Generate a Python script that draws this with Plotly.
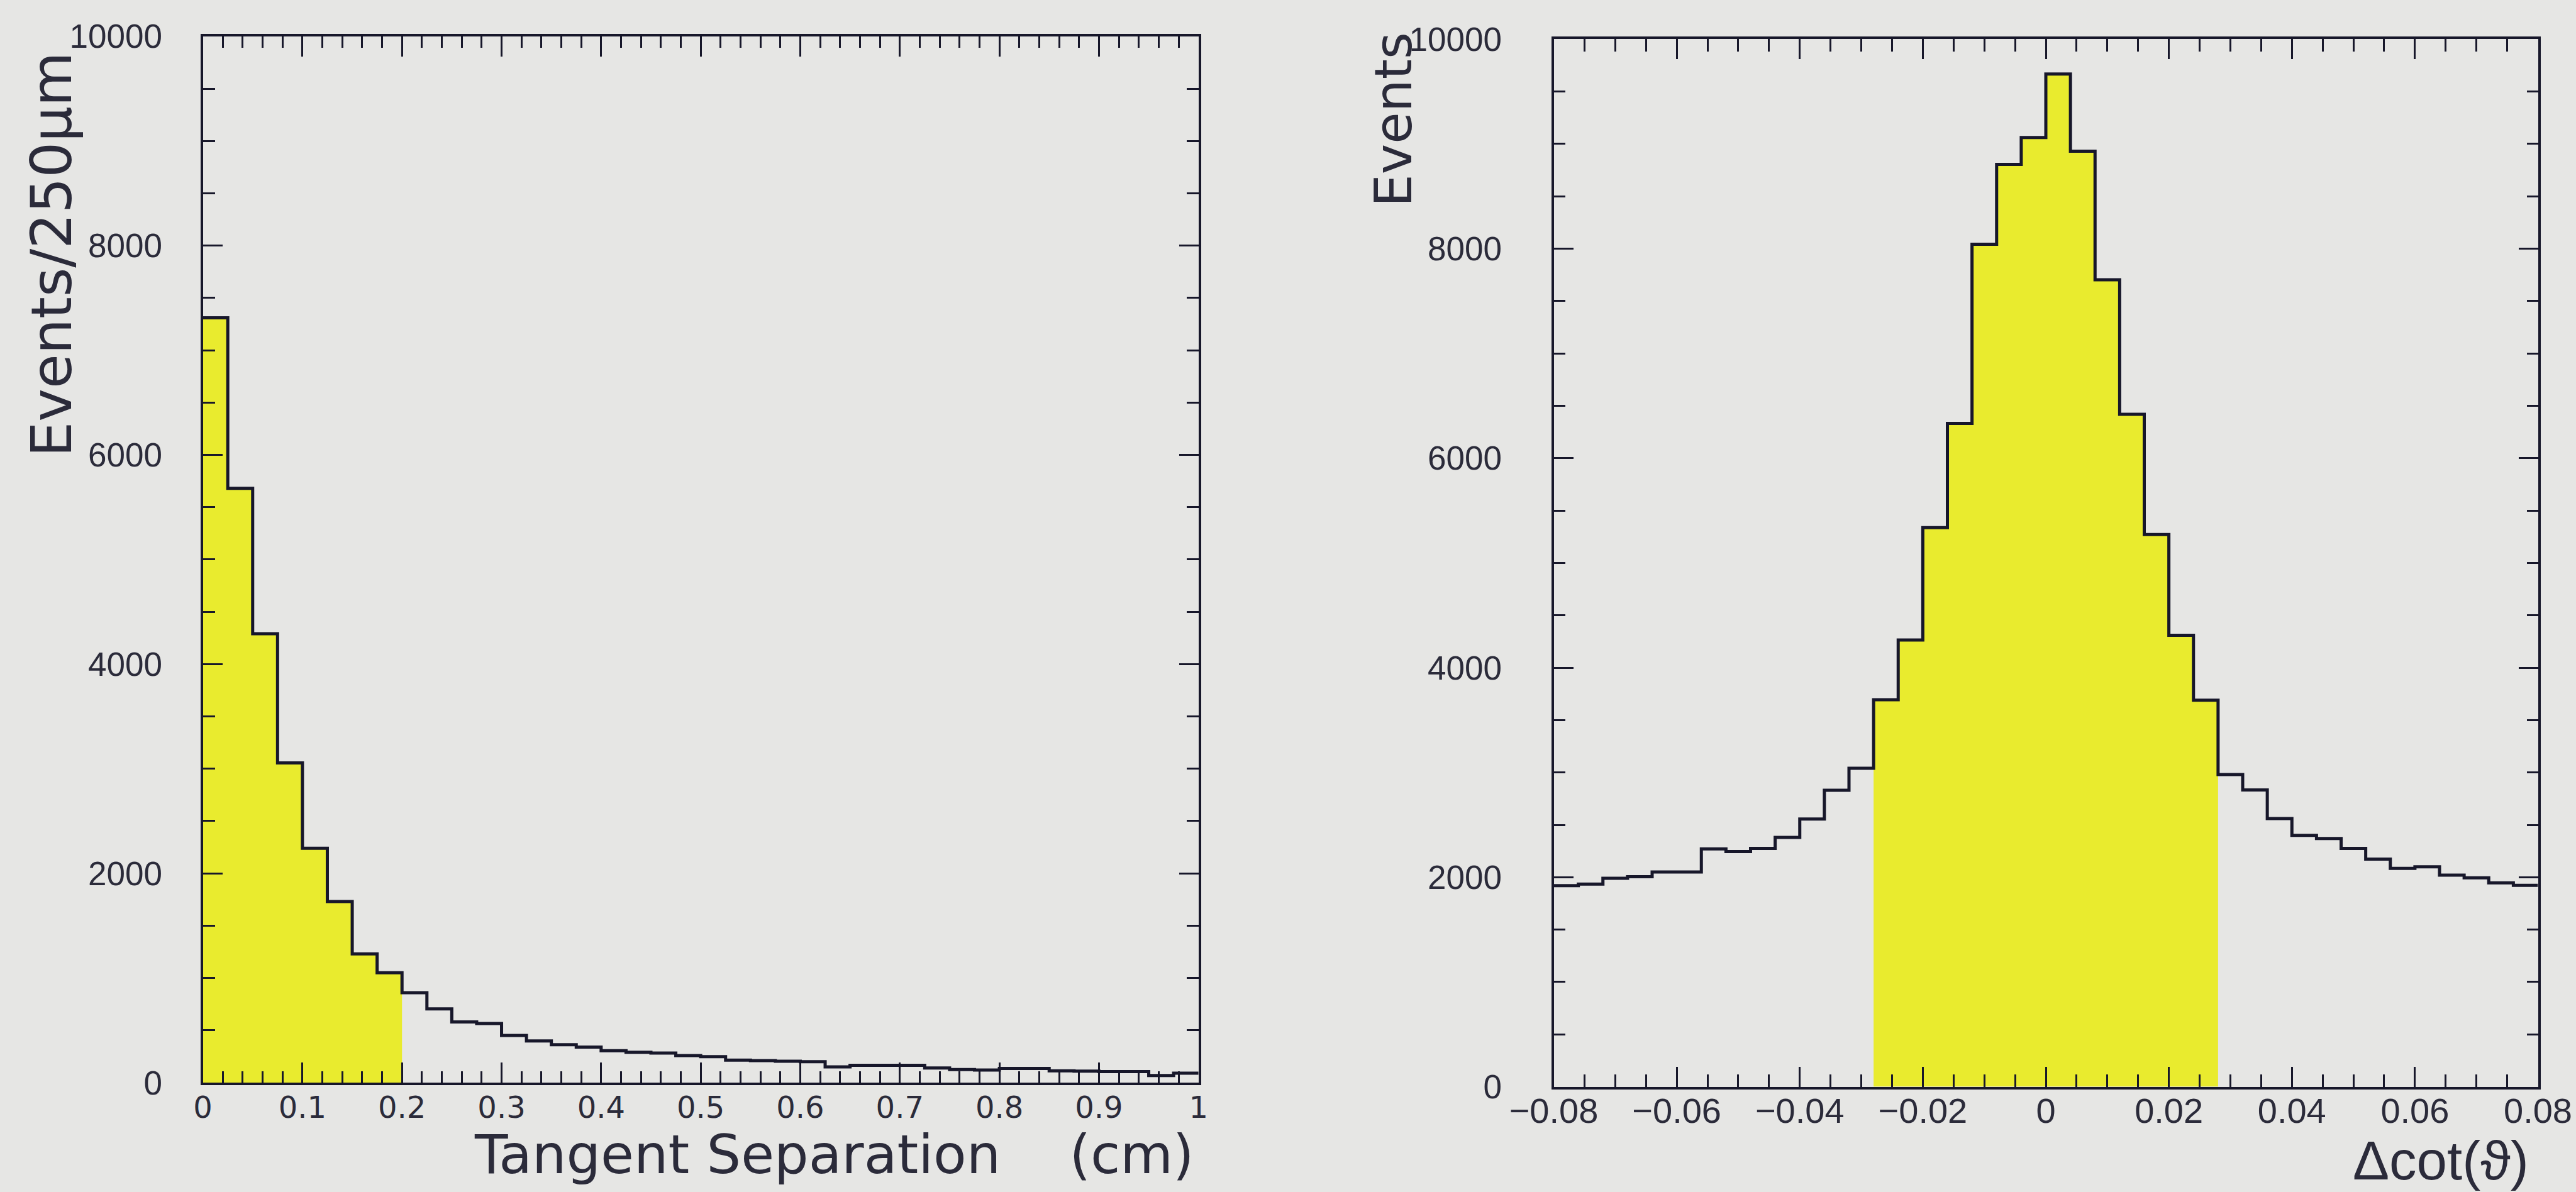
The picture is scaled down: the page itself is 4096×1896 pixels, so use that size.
import plotly.graph_objects as go

# ---- data -------------------------------------------------------------
# Tangent separation: 40 bins of 250 um between 0 and 1 cm
sep_range = [0.0, 1.0]
sep_nbins = 40
sep_counts = [7310, 5680, 4290, 3055, 2240, 1730, 1230, 1050, 860, 705,
              580, 565, 450, 398, 362, 340, 305, 290, 282, 258,
              248, 215, 210, 205, 200, 150, 165, 165, 165, 140,
              125, 120, 135, 135, 112, 110, 105, 105, 68, 90]
sep_cut = [0.0, 0.2]          # accepted region (shaded)
sep_ticks = [0, 0.1, 0.2, 0.3, 0.4, 0.5, 0.6, 0.7, 0.8, 0.9, 1]

# Delta cot(theta): 40 bins between -0.08 and 0.08
dcot_range = [-0.08, 0.08]
dcot_nbins = 40
dcot_counts = [1920, 1935, 1990, 2005, 2050, 2050, 2270, 2245, 2275, 2380,
               2555, 2830, 3040, 3695, 4265, 5338, 6332, 8043, 8804, 9061,
               9667, 8931, 7704, 6419, 5271, 4310, 3690, 2980, 2833, 2560,
               2400, 2370, 2275, 2173, 2085, 2100, 2020, 1995, 1947, 1923]
dcot_cut = [-0.028, 0.028]    # accepted region (shaded)
dcot_ticks = [-0.08, -0.06, -0.04, -0.02, 0, 0.02, 0.04, 0.06, 0.08]

count_ticks = [0, 2000, 4000, 6000, 8000, 10000]

# ---- style ------------------------------------------------------------
BG = "#e6e6e4"
FILL = "#e9eb2e"
INK = "#17172a"
TXT = "#2b2b3a"
W, H = 4096, 1896


def bin_edges(rng, n):
    step = (rng[1] - rng[0]) / n
    return [rng[0] + i * step for i in range(n + 1)]


def add_hist(fig, rng, n, counts, cut, xa, ya):
    edges = bin_edges(rng, n)
    # shaded part: bins whose centre lies inside the cut window
    sel = [i for i in range(n) if cut[0] < 0.5 * (edges[i] + edges[i + 1]) < cut[1]]
    fx = [edges[i] for i in sel] + [edges[sel[-1] + 1]]
    fy = [counts[i] for i in sel] + [counts[sel[-1]]]
    fig.add_trace(go.Scatter(x=fx, y=fy, mode="lines", line_shape="hv",
                             line=dict(width=0, color=FILL), fill="tozeroy",
                             fillcolor=FILL, xaxis=xa, yaxis=ya,
                             hoverinfo="skip"))
    # histogram outline
    fig.add_trace(go.Scatter(x=edges, y=list(counts) + [counts[-1]],
                             mode="lines", line_shape="hv",
                             line=dict(width=5, color=INK),
                             xaxis=xa, yaxis=ya, hoverinfo="skip"))


fig = go.Figure()
add_hist(fig, sep_range, sep_nbins, sep_counts, sep_cut, "x", "y")
add_hist(fig, dcot_range, dcot_nbins, dcot_counts, dcot_cut, "x2", "y2")


def axis_common(major_len, minor_len, minor_dtick):
    return dict(showgrid=False, zeroline=False, showline=True, linecolor=INK,
                linewidth=4, mirror="ticks", ticks="inside", ticklen=major_len,
                tickwidth=3, tickcolor=INK, automargin=False,
                minor=dict(ticks="inside", ticklen=minor_len, tickwidth=3,
                           tickcolor=INK, dtick=minor_dtick, showgrid=False),
                fixedrange=True)


xaxis = axis_common(32, 18, 0.02)
xaxis.update(domain=[322.6 / W, 1905.7 / W], range=sep_range,
             tickmode="array", tickvals=sep_ticks,
             tickfont=dict(family="DejaVu Sans", size=48, color=TXT),
             ticklabelstandoff=-6, anchor="y")
yaxis = axis_common(31, 19, 500)
yaxis.update(domain=[1 - 1722 / H, 1 - 57.8 / H], range=[0, 10000],
             tickmode="array", tickvals=count_ticks, tickformat="d",
             tickfont=dict(family="Liberation Sans", size=53, color=TXT),
             ticklabelstandoff=50, anchor="x")
xaxis2 = axis_common(32, 20, 0.005)
xaxis2.update(domain=[2470.5 / W, 4035.5 / W], range=dcot_range,
              tickmode="array", tickvals=dcot_ticks,
              tickfont=dict(family="Liberation Sans", size=56, color=TXT),
              ticklabelstandoff=-14, anchor="y2")
yaxis2 = axis_common(31, 18, 500)
yaxis2.update(domain=[1 - 1728.6 / H, 1 - 62.3 / H], range=[0, 10000],
              tickmode="array", tickvals=count_ticks, tickformat="d",
              tickfont=dict(family="Liberation Sans", size=53, color=TXT),
              ticklabelstandoff=68, anchor="x2")

fig.update_layout(width=W, height=H, margin=dict(l=0, r=0, t=0, b=0, autoexpand=False),
                  paper_bgcolor=BG, plot_bgcolor=BG, showlegend=False,
                  xaxis=xaxis, yaxis=yaxis, xaxis2=xaxis2, yaxis2=yaxis2)

# axis titles
fig.add_annotation(text="Events/250μm", textangle=-90, showarrow=False,
                   xref="paper", yref="paper", x=82 / W, y=1 - 405 / H,
                   xanchor="center", yanchor="middle",
                   font=dict(family="DejaVu Sans", size=89, color=TXT))
fig.add_annotation(text="Events", textangle=-90, showarrow=False,
                   xref="paper", yref="paper", x=2216 / W, y=1 - 190 / H,
                   xanchor="center", yanchor="middle",
                   font=dict(family="DejaVu Sans", size=82, color=TXT))
fig.add_annotation(text="Tangent Separation\u00a0\u00a0\u00a0\u00a0(cm)",
                   showarrow=False, xref="paper", yref="paper",
                   x=1901 / W, y=1 - 1836 / H, xanchor="right", yanchor="middle",
                   font=dict(family="DejaVu Sans", size=86, color=TXT))
fig.add_annotation(text="Δcot(ϑ)", showarrow=False, xref="paper", yref="paper",
                   x=4023 / W, y=1 - 1845 / H, xanchor="right", yanchor="middle",
                   font=dict(family="Liberation Sans", size=87, color=TXT))

fig.write_html("out.html")
